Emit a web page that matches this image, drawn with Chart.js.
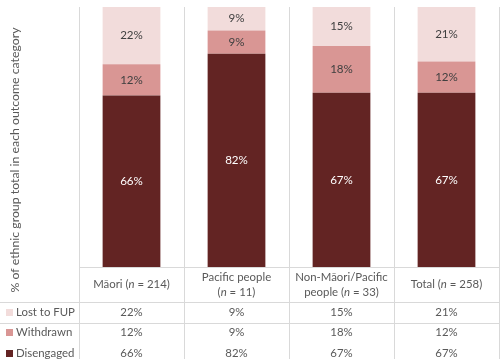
<!DOCTYPE html>
<html>
<head>
<meta charset="utf-8">
<script src="https://cdn.jsdelivr.net/npm/chart.js@4/dist/chart.umd.min.js"></script>
<style>
  html, body { margin: 0; padding: 0; background: #fff; }
  #wrap { width: 500px; height: 359px; position: relative; }
</style>
</head>
<body>
<div id="wrap"><canvas id="c"></canvas></div>
<script>
// ---- data ----
const categories = ["Māori", "Pacific people", "Non-Māori/Pacific people", "Total"];
const categoryN = [214, 11, 33, 258];
// category label lines: [[text, italic], ...] per line
const categoryLabelLines = [
  [[["Māori (", false], ["n", true], [" = 214)", false]]],
  [[["Pacific people", false]], [["(", false], ["n", true], [" = 11)", false]]],
  [[["Non-Māori/Pacific", false]], [["people (", false], ["n", true], [" = 33)", false]]],
  [[["Total (", false], ["n", true], [" = 258)", false]]]
];
const seriesNames = ["Disengaged", "Withdrawn", "Lost to FUP"];
const disengaged = [66, 82, 67, 67];
const withdrawn = [12, 9, 18, 12];
const lostToFUP = [22, 9, 15, 21];
const seriesColors = ["#632423", "#D99694", "#F2DCDB"];
const labelColors = ["#FFFFFF", "#404040", "#404040"];
const yTitle = "% of ethnic group total in each outcome category";

const FONT = "Lato, 'Open Sans', sans-serif";
const GRID = "#D9D9D9";
const TEXT = "#595959";
const FS = "11.4px ";

const tablePlugin = {
  id: "tablePlugin",
  afterDatasetsDraw(chart) {
    const ctx = chart.ctx;
    ctx.save();
    ctx.font = "11.6px " + FONT;
    ctx.textAlign = "center";
    ctx.textBaseline = "middle";
    chart.data.datasets.forEach((ds, di) => {
      const meta = chart.getDatasetMeta(di);
      meta.data.forEach((bar, i) => {
        const mid = (bar.y + bar.base) / 2;
        ctx.fillStyle = labelColors[di];
        ctx.fillText(ds.data[i] + "%", bar.x, mid);
      });
    });
    ctx.restore();
  },
  afterDraw(chart) {
    const ctx = chart.ctx;
    const x = chart.scales.x;
    const area = chart.chartArea;
    const n = categories.length;
    const catW = (area.right - area.left) / n;
    const bottom = chart.height;
    const labelTop = area.bottom;
    const tableTop = area.bottom + 35;
    const rowH = 20.5;
    ctx.save();
    ctx.strokeStyle = GRID;
    ctx.lineWidth = 1;
    for (let i = 0; i <= n; i++) {
      const px = Math.round(area.left + i * catW) + 0.5;
      ctx.beginPath();
      ctx.moveTo(px, area.top);
      ctx.lineTo(px, bottom);
      ctx.stroke();
    }
    const hl = (y, x0) => {
      const py = Math.round(y) + 0.5;
      ctx.beginPath();
      ctx.moveTo(x0, py);
      ctx.lineTo(Math.round(area.right) + 0.5, py);
      ctx.stroke();
    };
    hl(labelTop, area.left);
    hl(tableTop, 0);
    hl(tableTop + rowH, 0);

    ctx.fillStyle = TEXT;
    ctx.textBaseline = "middle";
    const drawRich = (parts, cx, cy) => {
      let total = 0;
      parts.forEach(([t, it]) => {
        ctx.font = (it ? "italic " : "") + FS + FONT;
        total += ctx.measureText(t).width;
      });
      let cur = cx - total / 2;
      ctx.textAlign = "left";
      parts.forEach(([t, it]) => {
        ctx.font = (it ? "italic " : "") + FS + FONT;
        ctx.fillText(t, cur, cy);
        cur += ctx.measureText(t).width;
      });
    };
    categoryLabelLines.forEach((lines, i) => {
      const cx = x.getPixelForValue(i);
      const midY = labelTop + 17.5;
      const lh = 15;
      lines.forEach((parts, li) => {
        const cy = midY + (li - (lines.length - 1) / 2) * lh;
        drawRich(parts, cx, cy);
      });
    });

    const rows = [
      { name: seriesNames[2], vals: lostToFUP, color: seriesColors[2] },
      { name: seriesNames[1], vals: withdrawn, color: seriesColors[1] },
      { name: seriesNames[0], vals: disengaged, color: seriesColors[0] }
    ];
    rows.forEach((r, ri) => {
      const cy = tableTop + rowH * ri + rowH / 2;
      ctx.fillStyle = r.color;
      ctx.fillRect(6, Math.round(cy - 3.5), 7, 7);
      ctx.fillStyle = TEXT;
      ctx.font = FS + FONT;
      ctx.textAlign = "left";
      ctx.fillText(r.name, 16, cy);
      ctx.textAlign = "center";
      r.vals.forEach((v, i) => {
        ctx.fillText(v + "%", x.getPixelForValue(i), cy);
      });
    });

    ctx.save();
    ctx.translate(15, 160);
    ctx.rotate(-Math.PI / 2);
    ctx.font = "12.3px " + FONT;
    ctx.textAlign = "center";
    ctx.textBaseline = "middle";
    ctx.fillStyle = TEXT;
    ctx.fillText(yTitle, 0, 0);
    ctx.restore();
    ctx.restore();
  }
};

new Chart(document.getElementById("c"), {
  type: "bar",
  data: {
    labels: categories,
    datasets: [
      { label: seriesNames[0], data: disengaged, backgroundColor: seriesColors[0] },
      { label: seriesNames[1], data: withdrawn, backgroundColor: seriesColors[1] },
      { label: seriesNames[2], data: lostToFUP, backgroundColor: seriesColors[2] }
    ]
  },
  options: {
    responsive: true,
    maintainAspectRatio: false,
    animation: false,
    datasets: { bar: { categoryPercentage: 0.55, barPercentage: 1.0, borderWidth: 0 } },
    layout: { padding: { left: 79, right: 1, top: 7, bottom: 92 } },
    plugins: { legend: { display: false }, tooltip: { enabled: false } },
    scales: {
      x: { stacked: true, display: false },
      y: { stacked: true, display: false, min: 0, max: 100 }
    }
  },
  plugins: [tablePlugin]
});
</script>
</body>
</html>
